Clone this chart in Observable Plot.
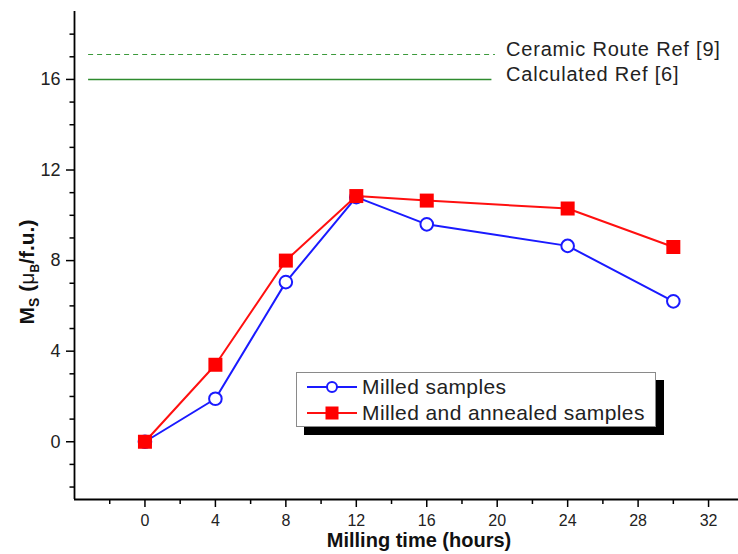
<!DOCTYPE html>
<html>
<head>
<meta charset="utf-8">
<script src="https://cdn.jsdelivr.net/npm/d3@7"></script>
<script src="https://cdn.jsdelivr.net/npm/@observablehq/plot@0.6"></script>
<style>
  body { margin: 0; background: #fff; }
  #wrap { position: relative; width: 738px; height: 554px; font-family: "Liberation Sans", Arial, sans-serif; }
  #legend { position: absolute; left: 296px; top: 372px; width: 360px; height: 55px; border: 1px solid #8a8a8a; background: #fff; box-shadow: 8px 8px 0 #000; box-sizing: border-box; padding-top: 1px; }
  .row { display: flex; align-items: center; height: 26px; font-size: 21px; letter-spacing: 0.4px; color: #222; white-space: nowrap; }
  .row svg { margin: 0 5px 0 10px; }
</style>
</head>
<body>
<div id="wrap"></div>
<script>
// Data
const hours = [0, 4, 8, 12, 16, 24, 30];
const milled = [0, 1.9, 7.05, 10.8, 9.6, 8.65, 6.2];
const annealed = [0, 3.4, 8.0, 10.85, 10.65, 10.3, 8.6];
const seriesNames = ["Milled samples", "Milled and annealed samples"];
const refNames = ["Ceramic Route Ref [9]", "Calculated Ref [6]"];
const refValues = [17.1, 16.0];
const refStart = [-3.2, -3.2];
const refEnd = [19.9, 19.7];
const refLabelX = 20.5;
const xMajor = [0, 4, 8, 12, 16, 20, 24, 28, 32];
const xMinor = [-2, 2, 6, 10, 14, 18, 22, 26, 30];
const yMajor = [0, 4, 8, 12, 16];
const yMinor = [-2, -1, 1, 2, 3, 5, 6, 7, 9, 10, 11, 13, 14, 15, 17, 18];

const blueData = hours.map((h, i) => ({x: h, y: milled[i]}));
const redData = hours.map((h, i) => ({x: h, y: annealed[i]}));
const refs = refNames.map((n, i) => ({name: n, y: refValues[i], x1: refStart[i], x2: refEnd[i], dashed: i === 0}));

const xDom = [-4, 33.7];
const yDom = [-2.55, 19];

const chart = Plot.plot({
  width: 738,
  height: 554,
  marginLeft: 74,
  marginRight: 0,
  marginTop: 11,
  marginBottom: 55,
  style: {fontFamily: "'Liberation Sans', Arial, sans-serif", fontSize: "17px", color: "#222", background: "#fff"},
  x: {domain: xDom},
  y: {domain: yDom},
  marks: [
    Plot.axisX({ticks: xMinor, tickSize: 5, text: null, label: null, strokeWidth: 1.5, stroke: "#000"}),
    Plot.axisX({ticks: xMajor, tickSize: 8, tickPadding: 7, strokeWidth: 1.5, stroke: "#000", fontSize: 16, label: null}),
    Plot.axisY({ticks: yMinor, tickSize: 4.5, text: null, label: null, strokeWidth: 1.5, stroke: "#000"}),
    Plot.axisY({ticks: yMajor, tickSize: 8, tickPadding: 6, strokeWidth: 1.5, stroke: "#000", fontSize: 18, label: null}),
    Plot.ruleX([xDom[0]], {y1: yDom[0], y2: yDom[1], stroke: "#000", strokeWidth: 1.8}),
    Plot.ruleY([yDom[0]], {x1: xDom[0], x2: xDom[1], stroke: "#000", strokeWidth: 1.8}),
    Plot.ruleY(refs.filter(d => d.dashed), {y: "y", x1: "x1", x2: "x2", stroke: "#3c9a3c", strokeWidth: 1.1, strokeDasharray: "5,4"}),
    Plot.ruleY(refs.filter(d => !d.dashed), {y: "y", x1: "x1", x2: "x2", stroke: "#2e8b2e", strokeWidth: 1.4}),
    Plot.text(refs, {x: () => refLabelX, y: "y", text: "name", textAnchor: "start", dy: -5, fontSize: 20, fill: "#222"}),
    Plot.line(blueData, {x: "x", y: "y", stroke: "#1a1aff", strokeWidth: 2}),
    Plot.dot(blueData, {x: "x", y: "y", r: 6.3, stroke: "#1a1aff", strokeWidth: 2, fill: "#fff"}),
    Plot.line(redData, {x: "x", y: "y", stroke: "#ff1010", strokeWidth: 2}),
    Plot.dot(redData, {x: "x", y: "y", r: 7.9, symbol: "square", fill: "#ff0000", stroke: "none"})
  ]
});

const svg = d3.select(chart);
// reference label letter spacing
svg.selectAll("text").filter(function() { return refNames.includes(this.textContent); }).attr("letter-spacing", 0.8);
// x axis title
svg.append("text")
  .attr("x", 419).attr("y", 547)
  .attr("text-anchor", "middle")
  .attr("font-size", 20).attr("font-weight", "bold")
  .attr("fill", "#111")
  .text("Milling time (hours)");
// y axis title with subscripts
const yt = svg.append("text")
  .attr("transform", "translate(34,272) rotate(-90)")
  .attr("text-anchor", "middle")
  .attr("font-size", 21).attr("font-weight", "bold")
  .attr("fill", "#111");
yt.append("tspan").text("M");
yt.append("tspan").attr("dy", 5).attr("font-size", 14).text("S");
yt.append("tspan").attr("dy", -5).text(" (");
yt.append("tspan").attr("font-weight", "normal").text("μ");
yt.append("tspan").attr("dy", 5).attr("font-size", 12).text("B");
yt.append("tspan").attr("dy", -5).text("/f.u.)");

document.getElementById("wrap").appendChild(chart);

// Legend
const legend = document.createElement("div");
legend.id = "legend";
legend.innerHTML = `
  <div class="row"><svg width="50" height="14"><line x1="0" y1="7" x2="50" y2="7" stroke="#1a1aff" stroke-width="2"/><circle cx="25" cy="7" r="5" fill="#fff" stroke="#1a1aff" stroke-width="2"/></svg><span>${seriesNames[0]}</span></div>
  <div class="row"><svg width="50" height="14"><line x1="0" y1="7" x2="50" y2="7" stroke="#ff1010" stroke-width="2"/><rect x="18.5" y="0.5" width="13" height="13" fill="#ff0000"/></svg><span>${seriesNames[1]}</span></div>`;
document.getElementById("wrap").appendChild(legend);
</script>
</body>
</html>
